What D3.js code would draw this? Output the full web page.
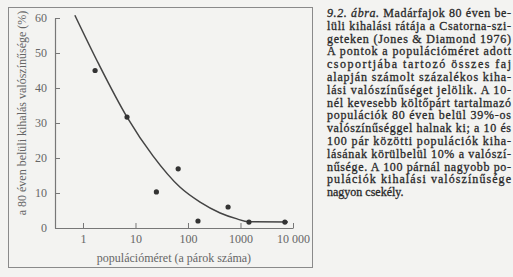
<!DOCTYPE html>
<html>
<head>
<meta charset="utf-8">
<script src="https://cdn.jsdelivr.net/npm/d3@7"></script>
<style>
  html, body { margin: 0; padding: 0; background: #f3f3f1; }
  svg { display: block; }
  .axis text { font-family: "Liberation Serif", serif; font-size: 12px; fill: #666; }
  .axis path, .axis line { stroke: #777; }
</style>
</head>
<body>
<div id="chart"></div>
<script>
// population size (pairs) vs. extinction probability within 80 years (%)
const xTicks = [1, 10, 100, 1000, 10000];
const xTickLabels = ['1', '10', '100', '1000', '10 000'];
const yTicks = [0, 10, 20, 30, 40, 50, 60];

const pointPop = [1.7, 6.9, 25, 65, 155, 580, 1450, 7000];
const pointRate = [45, 31.7, 10.3, 16.9, 2, 6, 1.7, 1.7];

const curvePop = [0.7, 2, 6.9, 21.5, 70, 170, 410, 860, 1400, 8000];
const curveRate = [60.8, 46.8, 31.7, 20.6, 11.7, 7.4, 4.3, 2.6, 1.8, 1.7];

const captionLines = [
  ['9.2. ábra.', ' Madárfajok 80 éven be-'],
  ['', 'lüli kihalási rátája a Csatorna-szi-'],
  ['', 'geteken (Jones & Diamond 1976)'],
  ['', 'A pontok a populációméret adott'],
  ['', 'csoportjába tartozó összes faj'],
  ['', 'alapján számolt százalékos kiha-'],
  ['', 'lási valószínűséget jelölik. A 10-'],
  ['', 'nél kevesebb költőpárt tartalmazó'],
  ['', 'populációk 80 éven belül 39%-os'],
  ['', 'valószínűséggel halnak ki; a 10 és'],
  ['', '100 pár közötti populációk kiha-'],
  ['', 'lásának körülbelül 10% a valószí-'],
  ['', 'nűsége. A 100 párnál nagyobb po-'],
  ['', 'pulációk kihalási valószínűsége'],
  ['', 'nagyon csekély.']
];

const width = 513;
const height = 277;

const svg = d3.select('#chart').append('svg').attr('width', width).attr('height', height);

// frame around the figure
svg.append('rect')
  .attr('x', 8.5).attr('y', 7.5)
  .attr('width', 304).attr('height', 260)
  .attr('fill', 'none')
  .attr('stroke', '#8a8a8a');

const x = d3.scaleLog().domain([0.293, 10000]).range([55, 293]);
const y = d3.scaleLinear().domain([0, 60]).range([228, 18]);

const xAxis = d3.axisBottom(x)
  .tickValues(xTicks)
  .tickFormat((d, i) => xTickLabels[i])
  .tickSizeInner(-5)
  .tickSizeOuter(0)
  .tickPadding(6);

const yAxis = d3.axisLeft(y)
  .tickValues(yTicks)
  .tickSizeInner(-5)
  .tickSizeOuter(0)
  .tickPadding(8);

svg.append('g').attr('class', 'axis').attr('transform', 'translate(0,228)').call(xAxis);
svg.append('g').attr('class', 'axis').attr('transform', 'translate(55,0)').call(yAxis);
svg.selectAll('.axis path.domain').attr('stroke-width', 1.2);

// fitted curve
const curveData = curvePop.map((p, i) => ({ p, r: curveRate[i] }));
const line = d3.line()
  .x((d) => x(d.p))
  .y((d) => y(d.r))
  .curve(d3.curveMonotoneX);

svg.append('path')
  .datum(curveData)
  .attr('d', line)
  .attr('fill', 'none')
  .attr('stroke', '#444')
  .attr('stroke-width', 1.5);

// measured points
svg.selectAll('circle.pt')
  .data(pointPop.map((p, i) => ({ p, r: pointRate[i] })))
  .enter()
  .append('circle')
  .attr('class', 'pt')
  .attr('cx', (d) => x(d.p))
  .attr('cy', (d) => y(d.r))
  .attr('r', 2.6)
  .attr('fill', '#333');

// axis titles
svg.append('text')
  .attr('x', 174).attr('y', 262)
  .attr('text-anchor', 'middle')
  .attr('font-family', 'Liberation Serif, serif')
  .attr('font-size', 12)
  .attr('fill', '#666')
  .text('populációméret (a párok száma)');

svg.append('text')
  .attr('transform', 'translate(26,113) rotate(-90)')
  .attr('text-anchor', 'middle')
  .attr('font-family', 'Liberation Serif, serif')
  .attr('font-size', 12)
  .attr('fill', '#666')
  .text('a 80 éven belüli kihalás  valószínűsége (%)');

// caption, justified
const caption = svg.append('g')
  .attr('font-family', 'Liberation Serif, serif')
  .attr('font-size', 12)
  .attr('fill', '#2a2a2a')
  .attr('stroke', '#2a2a2a')
  .attr('stroke-width', 0.3);
captionLines.forEach((parts, i) => {
  const t = caption.append('text')
    .attr('x', 327)
    .attr('y', 17 + i * 12.8);
  if (i < captionLines.length - 1) {
    t.attr('textLength', 184).attr('lengthAdjust', 'spacing');
  }
  if (parts[0]) t.append('tspan').attr('font-style', 'italic').text(parts[0]);
  t.append('tspan').text(parts[1]);
});
</script>
</body>
</html>
